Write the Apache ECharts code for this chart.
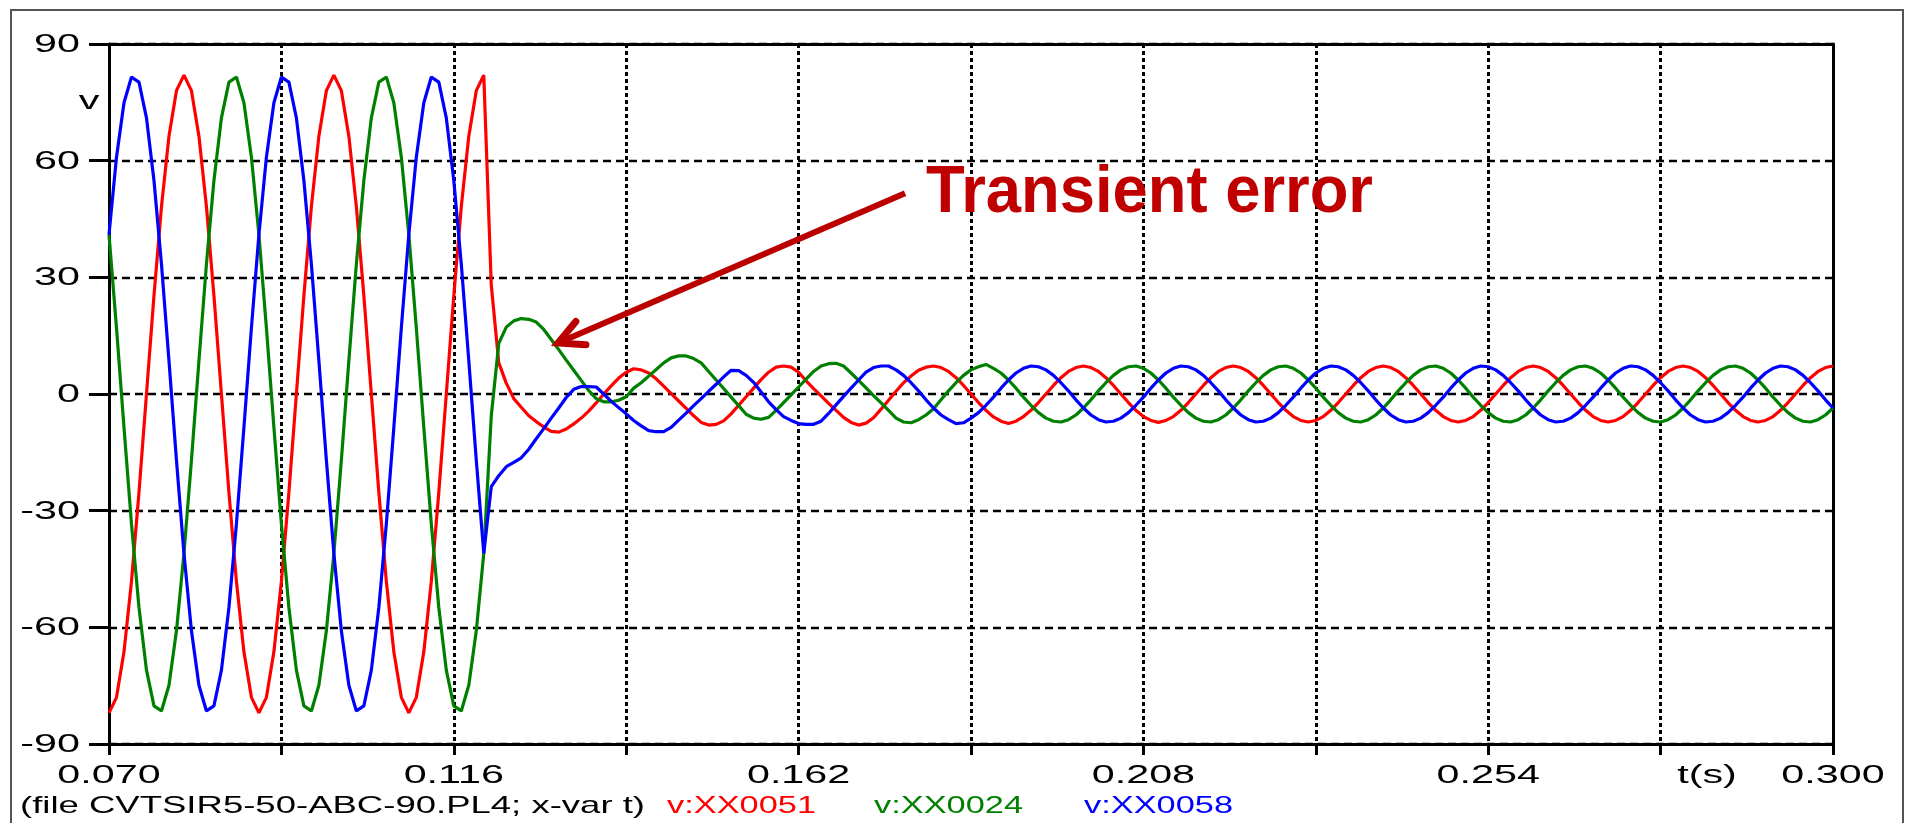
<!DOCTYPE html>
<html>
<head>
<meta charset="utf-8">
<title>CVT secondary voltages</title>
<script src="https://cdn.jsdelivr.net/npm/echarts@6/dist/echarts.min.js"></script>
<style>
  html, body { margin: 0; padding: 0; background: #ffffff; }
  #chart { width: 1906px; height: 823px; }
</style>
</head>
<body>
<div id="chart"></div>
<script>
// Waveforms sampled every millisecond from t = 0.070 s to t = 0.300 s
const T_START = 0.070;
const T_STEP = 0.001;

// v:XX0051 (phase A)
const vXX0051 = [
  -82, -78.0, -66.3, -48.2, -25.3, 0, 25.3, 48.2, 66.3, 78.0,
  82, 78.0, 66.3, 48.2, 25.3, 0, -25.3, -48.2, -66.3, -78.0,
  -82, -78.0, -66.3, -48.2, -25.3, 0, 25.3, 48.2, 66.3, 78.0,
  82, 78.0, 66.3, 48.2, 25.3, 0, -25.3, -48.2, -66.3, -78.0,
  -82, -78.0, -66.3, -48.2, -25.3, 0, 25.3, 48.2, 66.3, 78.0,
  82, 28.0, 8.0, 2.8, -1.2, -3.4, -5.6, -7.1, -8.5, -9.6,
  -9.8, -9.0, -7.7, -6.2, -4.4, -2.3, 0.0, 2.1, 4.1, 5.6,
  6.5, 6.2, 5.4, 3.9, 2.0, 0.1, -1.8, -3.7, -5.6, -7.3,
  -8.0, -7.8, -6.9, -5.1, -2.9, -0.7, 1.5, 3.7, 5.6, 6.9,
  7.2, 6.9, 5.6, 3.4, 1.4, -0.5, -2.4, -4.2, -6.0, -7.3,
  -8.0, -7.5, -6.1, -3.9, -1.6, 0.7, 2.9, 4.6, 6.1, 6.9,
  7.2, 6.8, 5.8, 4.2, 2.2, 0.0, -2.2, -4.2, -5.9, -7.0,
  -7.6, -7.0, -5.8, -4.2, -2.2, 0.0, 2.2, 4.2, 5.8, 6.8,
  7.2, 6.8, 5.8, 4.2, 2.2, 0.0, -2.2, -4.2, -5.8, -6.8,
  -7.3, -6.8, -5.8, -4.2, -2.2, 0.0, 2.2, 4.2, 5.8, 6.8,
  7.2, 6.8, 5.8, 4.2, 2.2, 0.0, -2.2, -4.2, -5.8, -6.8,
  -7.2, -6.8, -5.8, -4.2, -2.2, 0.0, 2.2, 4.2, 5.8, 6.8,
  7.2, 6.8, 5.8, 4.2, 2.2, 0.0, -2.2, -4.2, -5.8, -6.8,
  -7.2, -6.8, -5.8, -4.2, -2.2, 0.0, 2.2, 4.2, 5.8, 6.8,
  7.2, 6.8, 5.8, 4.2, 2.2, 0.0, -2.2, -4.2, -5.8, -6.8,
  -7.2, -6.8, -5.8, -4.2, -2.2, 0.0, 2.2, 4.2, 5.8, 6.8,
  7.2, 6.8, 5.8, 4.2, 2.2, 0.0, -2.2, -4.2, -5.8, -6.8,
  -7.2, -6.8, -5.8, -4.2, -2.2, 0.0, 2.2, 4.2, 5.8, 6.8,
  7.2
];

// v:XX0024 (phase B)
const vXX0024 = [
  41.0, 17.0, -8.6, -33.4, -54.9, -71.0, -80.2, -81.5, -74.9, -60.9,
  -41.0, -17.0, 8.6, 33.4, 54.9, 71.0, 80.2, 81.5, 74.9, 60.9,
  41.0, 17.0, -8.6, -33.4, -54.9, -71.0, -80.2, -81.5, -74.9, -60.9,
  -41.0, -17.0, 8.6, 33.4, 54.9, 71.0, 80.2, 81.5, 74.9, 60.9,
  41.0, 17.0, -8.6, -33.4, -54.9, -71.0, -80.2, -81.5, -74.9, -60.9,
  -41.0, -5.6, 13.0, 17.2, 18.8, 19.4, 19.2, 18.5, 16.6, 14.0,
  11.4, 8.7, 6.1, 3.5, 0.9, -1.2, -2.0, -2.0, -1.6, -0.7,
  1.5, 2.9, 4.6, 6.3, 8.0, 9.3, 9.8, 9.8, 9.1, 8.0,
  5.8, 3.6, 1.4, -0.8, -3.0, -5.2, -6.2, -6.5, -6.0, -4.2,
  -2.2, -0.2, 1.8, 3.8, 5.8, 7.2, 7.8, 7.9, 7.2, 5.4,
  3.5, 1.6, -0.4, -2.3, -4.2, -6.2, -7.2, -7.4, -6.6, -5.4,
  -3.8, -1.5, 0.8, 2.9, 4.8, 6.2, 7.0, 7.6, 6.6, 5.4,
  3.6, 1.5, -0.8, -2.9, -4.8, -6.2, -7.0, -7.2, -6.6, -5.4,
  -3.6, -1.5, 0.8, 2.9, 4.8, 6.2, 7.0, 7.2, 6.6, 5.4,
  3.6, 1.5, -0.8, -2.9, -4.8, -6.2, -7.0, -7.2, -6.6, -5.4,
  -3.6, -1.5, 0.8, 2.9, 4.8, 6.2, 7.0, 7.2, 6.6, 5.4,
  3.6, 1.5, -0.8, -2.9, -4.8, -6.2, -7.0, -7.2, -6.6, -5.4,
  -3.6, -1.5, 0.8, 2.9, 4.8, 6.2, 7.0, 7.2, 6.6, 5.4,
  3.6, 1.5, -0.8, -2.9, -4.8, -6.2, -7.0, -7.2, -6.6, -5.4,
  -3.6, -1.5, 0.8, 2.9, 4.8, 6.2, 7.0, 7.2, 6.6, 5.4,
  3.6, 1.5, -0.8, -2.9, -4.8, -6.2, -7.0, -7.2, -6.6, -5.4,
  -3.6, -1.5, 0.8, 2.9, 4.8, 6.2, 7.0, 7.2, 6.6, 5.4,
  3.6, 1.5, -0.8, -2.9, -4.8, -6.2, -7.0, -7.2, -6.6, -5.4,
  -3.6
];

// v:XX0058 (phase C)
const vXX0058 = [
  41.0, 60.9, 74.9, 81.5, 80.2, 71.0, 54.9, 33.4, 8.6, -17.0,
  -41.0, -60.9, -74.9, -81.5, -80.2, -71.0, -54.9, -33.4, -8.6, 17.0,
  41.0, 60.9, 74.9, 81.5, 80.2, 71.0, 54.9, 33.4, 8.6, -17.0,
  -41.0, -60.9, -74.9, -81.5, -80.2, -71.0, -54.9, -33.4, -8.6, 17.0,
  41.0, 60.9, 74.9, 81.5, 80.2, 71.0, 54.9, 33.4, 8.6, -17.0,
  -41.0, -23.8, -21.0, -18.7, -17.6, -16.4, -14.2, -11.5, -8.9, -6.2,
  -3.6, -0.9, 1.2, 1.9, 1.9, 1.8, 0.0, -1.9, -3.5, -5.1,
  -6.8, -8.2, -9.4, -9.7, -9.7, -8.6, -6.7, -4.9, -3.0, -1.2,
  0.7, 2.5, 4.4, 6.1, 6.0, 4.8, 3.0, 0.5, -2.0, -4.0,
  -5.8, -6.8, -7.6, -7.8, -7.8, -7.0, -5.0, -2.8, -0.6, 1.5,
  3.6, 5.6, 6.8, 7.2, 7.2, 6.2, 4.8, 2.9, 0.8, -1.5,
  -3.6, -5.4, -6.6, -7.6, -7.4, -6.2, -4.8, -2.9, -0.8, 1.5,
  3.6, 5.4, 6.6, 7.2, 7.0, 6.2, 4.8, 2.9, 0.8, -1.5,
  -3.6, -5.4, -6.6, -7.2, -7.0, -6.2, -4.8, -2.9, -0.8, 1.5,
  3.6, 5.4, 6.6, 7.2, 7.0, 6.2, 4.8, 2.9, 0.8, -1.5,
  -3.6, -5.4, -6.6, -7.2, -7.0, -6.2, -4.8, -2.9, -0.8, 1.5,
  3.6, 5.4, 6.6, 7.2, 7.0, 6.2, 4.8, 2.9, 0.8, -1.5,
  -3.6, -5.4, -6.6, -7.2, -7.0, -6.2, -4.8, -2.9, -0.8, 1.5,
  3.6, 5.4, 6.6, 7.2, 7.0, 6.2, 4.8, 2.9, 0.8, -1.5,
  -3.6, -5.4, -6.6, -7.2, -7.0, -6.2, -4.8, -2.9, -0.8, 1.5,
  3.6, 5.4, 6.6, 7.2, 7.0, 6.2, 4.8, 2.9, 0.8, -1.5,
  -3.6, -5.4, -6.6, -7.2, -7.0, -6.2, -4.8, -2.9, -0.8, 1.5,
  3.6, 5.4, 6.6, 7.2, 7.0, 6.2, 4.8, 2.9, 0.8, -1.5,
  -3.6
];

// Axis tick labels
const xTickLabels = ['0.070', '0.116', '0.162', '0.208', '0.254', '0.300'];
const yTickLabels = ['90', '60', '30', '0', '-30', '-60', '-90'];

// Caption texts
const fileCaption = '(file CVTSIR5-50-ABC-90.PL4; x-var t)';
const seriesNames = ['v:XX0051', 'v:XX0024', 'v:XX0058'];
const seriesColors = ['#ff0000', '#008000', '#0000ff'];
const annotationText = 'Transient error';
// Annotation arrow, in data units [t, v]
const arrowTip = [0.1299, 13.1];
const arrowTail = [0.1762, 51.6];

const times = vXX0051.map((_, i) => Math.round((T_START + i * T_STEP) * 1000) / 1000);
const toPairs = arr => arr.map((v, i) => [times[i], v]);

const FAMILY = '"Liberation Sans", Arial, sans-serif';
const TICK_SIZE = 25.5;
const STRETCH = 1.62;

const chart = echarts.init(document.getElementById('chart'), null, { renderer: 'canvas' });

const axisBase = {
  axisLine: { show: true, onZero: false, lineStyle: { color: '#000', width: 3 } },
  axisLabel: { show: false }
};

chart.setOption({
  animation: false,
  backgroundColor: '#ffffff',
  grid: { left: 109, right: 73, top: 44, bottom: 79, containLabel: false },
  xAxis: [
    Object.assign({
      type: 'value', min: 0.070, max: 0.300, interval: 0.023,
      axisTick: { show: true, inside: false, length: 11, lineStyle: { color: '#000', width: 3 } },
      splitLine: { show: true, lineStyle: { color: '#000', width: 3, type: [4, 3] } }
    }, axisBase),
    Object.assign({
      type: 'value', position: 'top', min: 0.070, max: 0.300,
      axisTick: { show: false }, splitLine: { show: false }
    }, axisBase)
  ],
  yAxis: [
    Object.assign({
      type: 'value', min: -90, max: 90, interval: 30,
      axisTick: { show: true, inside: false, length: 20, lineStyle: { color: '#000', width: 3 } },
      splitLine: { show: true, lineStyle: { color: '#000', width: 2.4, type: [8, 5] } }
    }, axisBase),
    Object.assign({
      type: 'value', position: 'right', min: -90, max: 90,
      axisTick: { show: false }, splitLine: { show: false }
    }, axisBase)
  ],
  series: [vXX0051, vXX0024, vXX0058].map((arr, i) => ({
    name: seriesNames[i],
    type: 'line',
    xAxisIndex: 0,
    yAxisIndex: 0,
    data: toPairs(arr),
    showSymbol: false,
    symbol: 'none',
    lineStyle: { color: seriesColors[i], width: 3.2 },
    z: 3 + i
  }))
});

// Text is drawn horizontally stretched; widths are fitted with canvas metrics.
const measureCtx = document.createElement('canvas').getContext('2d');
function measure(text, size, weight) {
  measureCtx.font = (weight || 'normal') + ' ' + size + 'px ' + FAMILY;
  return measureCtx.measureText(text).width;
}
function label(text, x, y, opts) {
  const o = opts || {};
  const size = o.size || TICK_SIZE;
  const weight = o.weight || 'normal';
  const sx = o.width ? o.width / measure(text, size, weight) : (o.scaleX || STRETCH);
  return {
    type: 'text', x: x, y: y, scaleX: sx, z: 100,
    style: {
      text: text, fill: o.color || '#000', fontSize: size, fontFamily: FAMILY,
      fontWeight: weight, align: o.align || 'center', verticalAlign: 'middle'
    }
  };
}
const toPx = p => chart.convertToPixel({ gridIndex: 0 }, p);

const graphics = [];
// Outer frame
graphics.push({
  type: 'rect', z: 1,
  shape: { x: 11, y: 10, width: 1892, height: 830 },
  style: { fill: 'none', stroke: '#555', lineWidth: 2 }
});
// Tick labels
yTickLabels.forEach(t => {
  const p = toPx([0.070, Number(t)]);
  graphics.push(label(t, 80, p[1] + 1, { align: 'right' }));
});
xTickLabels.forEach(t => {
  const p = toPx([Number(t), -90]);
  graphics.push(label(t, p[0], 776));
});
// Axis names
graphics.push(label('v', 89, 102));
graphics.push(label('t(s)', 1707, 776));
// Caption line
graphics.push(label(fileCaption, 20, 806, { size: 24, align: 'left', width: 625 }));
const captionX = [667, 874, 1084];
seriesNames.forEach((n, i) => {
  graphics.push(label(n, captionX[i], 806, { size: 24, align: 'left', width: 149, color: seriesColors[i] }));
});
// Annotation
graphics.push(label(annotationText, 926, 194, { size: 66, weight: 'bold', align: 'left', width: 447, color: '#c00000' }));
const tip = toPx(arrowTip);
const tail = toPx(arrowTail);
const dx = tail[0] - tip[0], dy = tail[1] - tip[1];
const len = Math.hypot(dx, dy);
const ux = dx / len, uy = dy / len;
const wing = (ang, l) => {
  const c = Math.cos(ang), s = Math.sin(ang);
  return [tip[0] + l * (ux * c - uy * s), tip[1] + l * (ux * s + uy * c)];
};
const headAngle = 27 * Math.PI / 180;
graphics.push({
  type: 'polyline', z: 101,
  shape: { points: [tip, tail] },
  style: { stroke: '#bb0000', lineWidth: 6, fill: 'none' }
});
graphics.push({
  type: 'polyline', z: 101,
  shape: { points: [wing(headAngle, 28), tip, wing(-headAngle, 28)] },
  style: { stroke: '#bb0000', lineWidth: 7, fill: 'none', lineJoin: 'miter', lineCap: 'round' }
});

chart.setOption({ graphic: graphics });
</script>
</body>
</html>
